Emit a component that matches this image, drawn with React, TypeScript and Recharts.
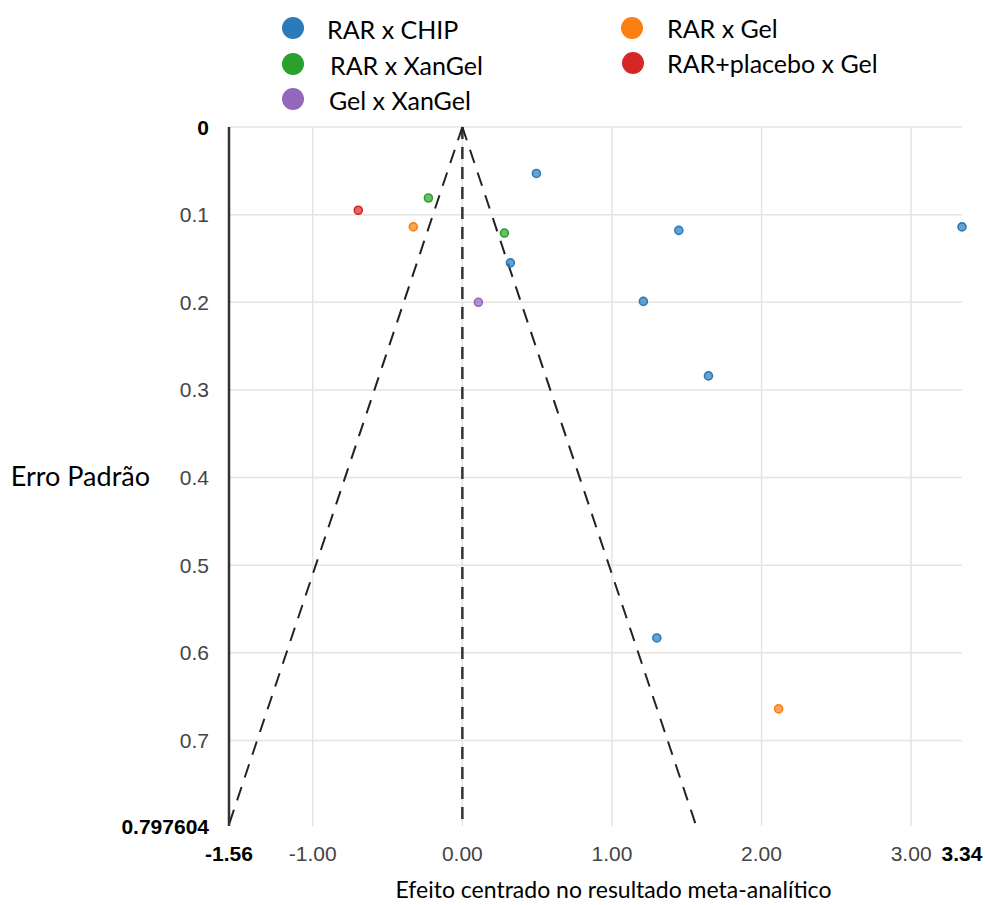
import {
  ScatterChart,
  Scatter,
  XAxis,
  YAxis,
  CartesianGrid,
  ReferenceLine,
  Legend,
  Label,
} from "recharts";

// effect (centred on meta-analytic result) and standard error for each comparison
const chipEffect = [0.495, 1.447, 3.34, 0.321, 1.21, 1.645, 1.3];
const chipSe = [0.053, 0.118, 0.114, 0.155, 0.199, 0.284, 0.583];
const gelEffect = [-0.328, 2.114];
const gelSe = [0.114, 0.664];
const xanGelEffect = [-0.227, 0.281];
const xanGelSe = [0.081, 0.121];
const placeboEffect = [-0.696];
const placeboSe = [0.095];
const gelXanEffect = [0.107];
const gelXanSe = [0.2];

const seriesNames = [
  "RAR x CHIP",
  "RAR x Gel",
  "RAR x XanGel",
  "RAR+placebo x Gel",
  "Gel x XanGel",
];
const seriesColors = ["#2b7bba", "#fd7f12", "#2ca02c", "#d62728", "#9467bd"];

const xMin = -1.56;
const xMax = 3.34;
const seMax = 0.797604;
const xTicks = [-1.56, -1, 0, 1, 2, 3, 3.34];
const yTicks = [0, 0.1, 0.2, 0.3, 0.4, 0.5, 0.6, 0.7, 0.797604];
const xGrid = [-1, 0, 1, 2, 3];
const yGrid = [0, 0.1, 0.2, 0.3, 0.4, 0.5, 0.6, 0.7];
const funnelZ = 1.96;

const toPoints = (xs: number[], ys: number[]) =>
  xs.map((x, i) => ({ x, y: ys[i] }));

const series = [
  toPoints(chipEffect, chipSe),
  toPoints(gelEffect, gelSe),
  toPoints(xanGelEffect, xanGelSe),
  toPoints(placeboEffect, placeboSe),
  toPoints(gelXanEffect, gelXanSe),
];

// where each legend entry sits (circle centre, text start)
const legendPos = [
  { cx: 293, cy: 28, tx: 327, ty: 30 },
  { cx: 632, cy: 28, tx: 667, ty: 29 },
  { cx: 293, cy: 64, tx: 330, ty: 66 },
  { cx: 633, cy: 63, tx: 667, ty: 64 },
  { cx: 293, cy: 99, tx: 329, ty: 101 },
];

const tickFont = "'Liberation Sans', Arial, sans-serif";
const titleFont = "Lato, 'Open Sans', sans-serif";

const XTick = (props: any) => {
  const { x, y, payload } = props;
  const edge = payload.value === xMin || payload.value === xMax;
  return (
    <text
      x={x}
      y={y}
      dy="0.71em"
      textAnchor="middle"
      fontFamily={tickFont}
      fontSize={21}
      fontWeight={edge ? "bold" : "normal"}
      fill={edge ? "#000" : "#444"}
    >
      {payload.value.toFixed(2)}
    </text>
  );
};

const YTick = (props: any) => {
  const { x, y, payload } = props;
  const edge = payload.value === 0 || payload.value === seMax;
  return (
    <text
      x={x}
      y={y}
      dy="0.36em"
      textAnchor="end"
      fontFamily={tickFont}
      fontSize={21}
      fontWeight={edge ? "bold" : "normal"}
      fill={edge ? "#000" : "#444"}
    >
      {edge ? String(payload.value) : payload.value.toFixed(1)}
    </text>
  );
};

const Dot = (props: any) => {
  const { cx, cy, fill } = props;
  return (
    <circle
      cx={cx}
      cy={cy}
      r={4}
      fill={fill}
      fillOpacity={0.7}
      stroke={fill}
      strokeWidth={1.6}
    />
  );
};

const LegendBox = () => (
  <svg width={985} height={120}>
    {seriesNames.map((name, i) => (
      <g key={name}>
        <circle
          cx={legendPos[i].cx}
          cy={legendPos[i].cy}
          r={11}
          fill={seriesColors[i]}
        />
        <text
          x={legendPos[i].tx}
          y={legendPos[i].ty}
          dy="0.35em"
          fontFamily={titleFont}
          fontSize={25}
          fill="#000"
        >
          {name}
        </text>
      </g>
    ))}
  </svg>
);

export default function App() {
  const funnelEdge = funnelZ * seMax;
  return (
    <div style={{ position: "absolute", left: 0, top: 0, background: "#fff" }}>
      <ScatterChart
        width={985}
        height={905}
        margin={{ top: 127, right: 23, left: 149, bottom: 49 }}
      >
        <CartesianGrid
          stroke="#e4e4e4"
          strokeWidth={1.5}
          verticalValues={xGrid}
          horizontalValues={yGrid}
        />
        <XAxis
          type="number"
          dataKey="x"
          domain={[xMin, xMax]}
          ticks={xTicks}
          interval={0}
          axisLine={false}
          tickLine={false}
          tickSize={0}
          tickMargin={20}
          height={30}
          tick={<XTick />}
        >
          <Label
            value="Efeito centrado no resultado meta-analítico"
            position="bottom"
            offset={26}
            dx={18}
            fontFamily={titleFont}
            fontSize={23}
            fill="#000"
          />
        </XAxis>
        <YAxis
          type="number"
          dataKey="y"
          reversed
          domain={[0, seMax]}
          ticks={yTicks}
          interval={0}
          width={80}
          axisLine={{ stroke: "#333", strokeWidth: 2.5 }}
          tickLine={false}
          tickSize={0}
          tickMargin={20}
          tick={<YTick />}
        >
          <Label
            value="Erro Padrão"
            position="left"
            offset={-1}
            fontFamily={titleFont}
            fontSize={27}
            fill="#000"
          />
        </YAxis>
        <ReferenceLine
          segment={[
            { x: 0, y: 0 },
            { x: 0, y: seMax },
          ]}
          stroke="#333"
          strokeWidth={2.5}
          strokeDasharray="12 8"
        />
        <ReferenceLine
          segment={[
            { x: 0, y: 0 },
            { x: -funnelEdge, y: seMax },
          ]}
          stroke="#222"
          strokeWidth={2}
          strokeDasharray="14 10"
          ifOverflow="visible"
        />
        <ReferenceLine
          segment={[
            { x: 0, y: 0 },
            { x: funnelEdge, y: seMax },
          ]}
          stroke="#222"
          strokeWidth={2}
          strokeDasharray="14 10"
        />
        {series.map((pts, i) => (
          <Scatter
            key={seriesNames[i]}
            name={seriesNames[i]}
            data={pts}
            fill={seriesColors[i]}
            shape={<Dot />}
            isAnimationActive={false}
          />
        ))}
        <Legend
          layout="horizontal"
          verticalAlign="middle"
          align="center"
          content={<LegendBox />}
          wrapperStyle={{ position: "absolute", top: 0, left: 0, width: 985 }}
        />
      </ScatterChart>
    </div>
  );
}
